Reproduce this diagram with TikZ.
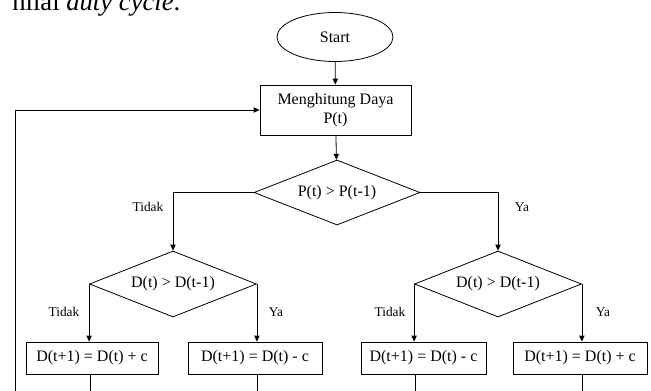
\documentclass[tikz,border=0pt]{standalone}
\usepackage{fontspec}
\setmainfont{Liberation Serif}
\usetikzlibrary{shapes.geometric,arrows.meta}
\begin{document}
\begin{tikzpicture}[x=0.75pt,y=-0.75pt,
  every node/.style={font=\fontsize{12}{14}\selectfont},
  arr/.style={line width=0.6pt,-{Triangle[length=4.5pt,width=4pt]}},
  procbox/.style={draw,line width=0.6pt,rectangle,inner sep=0pt,minimum height=32*0.75pt},
  decide/.style={draw,line width=0.6pt,diamond,aspect=2.5,inner sep=0pt,minimum width=167*0.75pt,minimum height=66*0.75pt},
  lbl/.style={font=\fontsize{10}{12}\selectfont,inner sep=0pt}]
\useasboundingbox (0,0) rectangle (651,390);
\node[anchor=base west,inner sep=0pt,font=\fontsize{20}{24}\selectfont] (cap) at (12,10) {nilai \textit{duty cycle}.};
\node[draw,line width=0.6pt,ellipse,inner sep=0pt,minimum width=116*0.75pt,minimum height=49*0.75pt] (start) at (335,37) {Start};
\node[draw,line width=0.6pt,rectangle,align=center,inner sep=0pt,minimum width=151*0.75pt,minimum height=50*0.75pt] (hit) at (335.5,110) {Menghitung Daya\\P(t)};
\node[decide,minimum width=166*0.75pt,minimum height=65*0.75pt] (d1) at (337,192.5) {P(t) > P(t-1)};
\node[decide] (d2l) at (173,284) {D(t) > D(t-1)};
\node[decide] (d2r) at (498,284) {D(t) > D(t-1)};
\node[procbox,minimum width=132*0.75pt] (bll) at (92,358) {D(t+1) = D(t) + c};
\node[procbox,minimum width=134*0.75pt] (blr) at (255,358) {D(t+1) = D(t) - c};
\node[procbox,minimum width=125*0.75pt] (brl) at (423.5,358) {D(t+1) = D(t) - c};
\node[procbox,minimum width=134*0.75pt] (brr) at (580,358) {D(t+1) = D(t) + c};
\coordinate (bx1) at (173,192.5);
\coordinate (bx2) at (498,192.5);
\coordinate (loopb) at (15,400);
\coordinate (e1) at (90,397);
\coordinate (e2) at (257,397);
\coordinate (e3) at (415,397);
\coordinate (e4) at (582,397);
\draw[arr] (start) -- (hit);
\draw[arr] (hit) -- (d1);
\draw[arr] (d1.west) -- (bx1) -- (d2l.north);
\draw[arr] (d1.east) -- (bx2) -- (d2r.north);
\draw[arr] (d2l.west) -- (d2l.west |- bll.north);
\draw[arr] (d2l.east) -- (d2l.east |- blr.north);
\draw[arr] (d2r.west) -- (d2r.west |- brl.north);
\draw[arr] (d2r.east) -- (d2r.east |- brr.north);
\draw[arr] (bll.south -| e1) -- (e1);
\draw[arr] (blr.south -| e2) -- (e2);
\draw[arr] (brl.south -| e3) -- (e3);
\draw[arr] (brr.south -| e4) -- (e4);
\draw[arr] (loopb) |- (hit.west);
\node[lbl] (t1) at (148,207) {Tidak};
\node[lbl] (y1) at (522,207) {Ya};
\node[lbl] (t2) at (64,312) {Tidak};
\node[lbl] (y2) at (276,312) {Ya};
\node[lbl] (t3) at (390,312) {Tidak};
\node[lbl] (y3) at (603,312) {Ya};
\end{tikzpicture}
\end{document}
